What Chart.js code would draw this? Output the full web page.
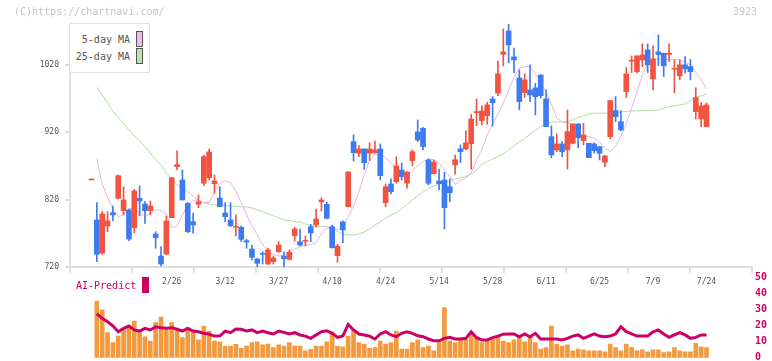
<!DOCTYPE html>
<html>
<head>
<meta charset="utf-8">
<script src="https://cdn.jsdelivr.net/npm/chart.js@4/dist/chart.umd.min.js"></script>
<style>
body { margin: 0; background: #fff; overflow: hidden; }
#wrap { position: relative; width: 772px; height: 361px; overflow: hidden; font-family: "DejaVu Sans Mono", monospace; }
canvas { position: absolute; left: 0; top: 0; }
.txt { position: absolute; white-space: nowrap; font-size: 10px; line-height: 12px; }
.sw { position: absolute; box-sizing: border-box; }
</style>
</head>
<body>
<div id="wrap">
  <canvas id="priceChart" width="772" height="361"></canvas>
  <canvas id="volChart" width="772" height="380"></canvas>

  <div class="txt" style="left:14px;top:6px;color:#c4c4c4">(C)https://chartnavi.com/</div>
  <div class="txt" style="right:15px;top:6px;color:#c8c8c8">3923</div>

  <div class="sw" style="left:69px;top:23px;width:81px;height:50px;border:1px solid #e0e0e0;background:#fff"></div>
  <div class="txt" style="right:642px;top:34px;color:#555">5-day MA</div>
  <div class="sw" style="left:136px;top:31px;width:7px;height:16px;border:1px solid #555;background:#ecbcec"></div>
  <div class="txt" style="right:642px;top:51px;color:#555">25-day MA</div>
  <div class="sw" style="left:136px;top:48px;width:7px;height:16px;border:1px solid #555;background:#bce2ac"></div>

  <div class="txt" style="left:76px;top:280px;color:#cc0066">AI-Predict</div>
  <div class="sw" style="left:142px;top:277px;width:7px;height:16px;background:#cc0066"></div>
</div>
<script>
"use strict";

/*******************
   DAILY PRICES
*******************/

var opens = [849.3, 789.8, 740.4, 780.9, 800.7, 822.1, 803.7, 804.7, 778.4, 822.1,
	813.6, 803.7, 769.0, 736.3, 739.3, 793.3, 869.0, 849.3, 814.7, 787.3,
	813.2, 844.4, 852.7, 843.8, 822.5, 800.2, 789.8, 778.7, 779.0, 759.1,
	746.7, 731.9, 740.4, 724.5, 727.9, 742.7, 736.3, 731.4, 766.5, 757.6,
	758.2, 779.9, 782.4, 816.6, 813.2, 779.9, 736.8, 786.9, 809.6, 906.2,
	889.0, 895.3, 889.0, 889.8, 895.3, 815.5, 843.3, 846.7, 864.1, 844.4,
	878.0, 920.6, 926.1, 879.0, 858.6, 847.8, 849.3, 839.3, 871.6, 895.3,
	895.3, 903.2, 949.3, 937.4, 944.8, 969.6, 978.1, 1035.8, 1070.7, 1032.0,
	1000.8, 979.0, 983.0, 986.0, 1005.3, 969.6, 913.6, 893.9, 902.8, 893.9,
	903.8, 932.5, 907.7, 903.8, 902.8, 898.8, 875.6, 913.6, 952.3, 935.9,
	980.5, 1025.7, 1010.2, 1027.6, 1042.4, 999.3, 1039.5, 1037.5, 1035.5, 1013.8,
	1003.8, 1020.2, 1017.6, 950.8, 939.9, 928.5];

var highs = [849.3, 815.5, 802.2, 802.2, 810.6, 856.7, 838.9, 806.2, 835.5, 840.4,
	817.0, 818.1, 772.5, 750.2, 795.8, 852.7, 892.4, 864.1, 815.5, 799.8,
	827.0, 886.4, 895.3, 856.7, 838.9, 815.5, 815.5, 797.3, 780.9, 761.2,
	752.7, 732.9, 742.7, 747.8, 736.3, 757.6, 742.7, 745.3, 779.0, 776.5,
	766.1, 783.4, 806.2, 823.0, 816.1, 782.4, 753.7, 788.4, 861.2, 916.1,
	900.2, 895.3, 904.7, 907.2, 902.8, 843.3, 850.8, 883.9, 874.5, 861.2,
	893.9, 938.4, 927.0, 880.5, 879.0, 865.6, 860.7, 850.8, 886.4, 901.3,
	922.1, 946.9, 969.6, 959.2, 964.7, 973.1, 1026.1, 1073.6, 1081.1, 1045.0,
	1012.7, 1006.8, 1020.2, 993.0, 1005.3, 983.0, 929.5, 917.6, 906.2, 953.3,
	932.5, 932.5, 933.5, 903.8, 904.7, 898.8, 886.4, 967.1, 973.1, 952.3,
	1016.1, 1033.5, 1033.5, 1051.4, 1051.4, 1048.4, 1064.7, 1037.5, 1051.4, 1027.6,
	1027.6, 1032.5, 1028.6, 986.4, 964.1, 963.7];

var lows = [849.3, 727.9, 738.9, 772.5, 788.4, 821.0, 797.3, 759.1, 771.0, 795.8,
	784.9, 797.3, 747.8, 721.5, 738.3, 793.3, 864.1, 819.6, 771.0, 770.1,
	808.1, 840.8, 849.3, 829.5, 809.6, 787.3, 779.9, 766.1, 757.6, 747.8,
	730.4, 719.0, 724.5, 724.0, 724.5, 741.8, 720.4, 730.4, 758.6, 751.2,
	751.2, 757.6, 779.0, 803.2, 791.3, 747.8, 727.0, 756.1, 809.6, 877.5,
	883.9, 865.2, 878.0, 889.0, 849.3, 809.6, 828.5, 844.4, 849.3, 836.9,
	870.5, 906.2, 893.9, 841.8, 857.7, 834.4, 776.5, 817.0, 857.7, 875.0,
	893.9, 865.2, 930.0, 931.0, 932.0, 929.5, 974.5, 1018.7, 1023.1, 1008.7,
	953.3, 971.9, 965.6, 945.9, 971.1, 928.5, 882.4, 891.3, 883.9, 865.6,
	902.8, 897.3, 901.3, 882.4, 889.0, 879.0, 869.0, 910.6, 935.9, 922.1,
	971.6, 1008.7, 1008.3, 1017.6, 1008.7, 983.0, 1019.1, 1002.8, 1025.1, 979.0,
	997.9, 1007.8, 997.9, 939.9, 928.5, 928.5];

var closes = [849.3, 738.9, 798.8, 788.4, 797.3, 855.7, 819.6, 761.6, 832.9, 818.1,
	803.7, 810.6, 763.5, 724.5, 788.4, 852.7, 872.0, 819.6, 772.5, 782.4,
	817.0, 883.9, 890.9, 847.8, 809.6, 794.7, 781.4, 779.7, 761.2, 757.1,
	734.4, 725.5, 738.9, 745.3, 733.4, 752.7, 732.3, 741.8, 776.5, 752.7,
	759.1, 770.5, 791.3, 819.6, 792.4, 748.7, 751.2, 775.0, 861.2, 889.8,
	895.3, 875.0, 895.3, 893.9, 855.7, 839.3, 831.9, 870.1, 854.2, 861.2,
	891.3, 908.7, 898.8, 844.4, 876.0, 843.8, 808.1, 830.4, 879.4, 891.3,
	904.3, 939.9, 950.3, 951.8, 960.7, 964.1, 1006.8, 1039.5, 1049.9, 1027.6,
	965.6, 997.9, 975.6, 973.0, 974.5, 928.5, 886.4, 902.8, 891.3, 921.0,
	932.5, 912.1, 916.1, 882.4, 892.8, 889.0, 884.9, 967.1, 943.3, 923.6,
	1006.8, 1026.5, 1033.5, 1035.0, 1020.2, 1029.1, 1035.5, 1018.7, 1037.5, 1014.7,
	1020.2, 1014.2, 1010.2, 971.6, 959.2, 960.7];

var ma5 = [null, 880.0, 843.3, 824.0, 806.2, 795.0, 797.3, 806.9, 806.2, 801.0,
	794.3, 800.2, 804.7, 804.7, 798.0, 778.7, 780.9, 797.3, 812.1, 818.8,
	819.6, 815.8, 815.8, 831.4, 844.8, 847.8, 845.6, 832.9, 815.8, 797.3,
	781.7, 767.5, 753.4, 743.0, 738.6, 736.3, 737.8, 743.8, 746.7, 749.7,
	751.9, 753.4, 756.4, 769.8, 778.0, 777.2, 775.7, 778.0, 795.0, 810.6,
	831.4, 856.7, 878.2, 887.2, 887.2, 882.0, 875.3, 865.6, 854.5, 856.0,
	862.6, 870.8, 876.8, 880.0, 879.7, 874.5, 863.4, 854.5, 842.6, 848.5,
	852.2, 859.7, 879.0, 894.6, 916.1, 932.5, 947.3, 963.7, 983.0, 1001.6,
	1015.7, 1017.9, 1017.6, 1006.8, 994.9, 980.0, 962.2, 941.4, 935.5, 934.7,
	931.0, 922.1, 914.7, 913.6, 911.7, 905.7, 896.4, 891.6, 899.8, 914.7,
	932.5, 956.3, 980.0, 1005.3, 1021.6, 1029.1, 1029.1, 1028.6, 1028.6, 1028.3,
	1027.6, 1024.6, 1020.2, 1009.0, 997.9, 984.5];

var ma25 = [null, 986.7, 975.6, 963.7, 951.8, 942.2, 932.5, 923.6, 914.7, 907.2,
	898.3, 889.4, 879.0, 871.6, 859.7, 850.8, 841.9, 835.9, 831.5, 825.5,
	818.1, 815.1, 813.6, 812.1, 812.1, 811.4, 810.6, 809.9, 809.2, 809.2,
	807.7, 804.7, 802.2, 798.8, 796.5, 792.8, 789.8, 789.1, 787.3, 786.9,
	783.9, 781.7, 779.9, 779.9, 779.9, 776.5, 772.8, 769.0, 767.6, 767.6,
	769.0, 772.0, 776.5, 782.4, 786.9, 792.8, 797.3, 801.0, 806.2, 812.9,
	819.6, 825.5, 831.5, 836.6, 840.4, 843.3, 845.6, 847.8, 850.8, 852.3,
	854.5, 858.2, 863.4, 872.3, 876.8, 880.5, 884.2, 887.9, 893.9, 899.8,
	905.7, 910.2, 917.6, 922.8, 928.8, 933.2, 935.0, 935.5, 935.5, 935.9,
	938.4, 942.2, 944.4, 947.3, 948.4, 948.4, 948.4, 948.4, 948.8, 950.3,
	951.1, 951.8, 951.8, 952.3, 952.3, 952.6, 953.3, 956.3, 957.7, 959.2,
	960.7, 962.2, 966.7, 972.6, 974.1, 977.1];

/*******************
  VOLUME & PREDICT
*******************/

var volume = [null, 35.1, 29.6, 15.5, 9.3, 13.4, 17.2, 18.2, 22.7, 15.5,
	13.0, 10.3, 21.7, 25.2, 17.2, 21.7, 17.2, 12.4, 18.6, 16.5,
	11.0, 19.6, 16.5, 10.3, 9.9, 7.2, 7.2, 8.3, 5.8, 7.2,
	9.3, 9.9, 7.9, 8.5, 6.2, 7.9, 7.2, 9.3, 7.2, 7.2,
	4.3, 5.2, 7.2, 7.2, 9.9, 16.1, 7.2, 6.8, 13.4, 17.2,
	9.3, 8.5, 5.8, 6.2, 10.3, 8.5, 9.3, 16.5, 5.4, 5.4,
	9.3, 11.0, 6.2, 7.2, 4.3, 9.3, 31.0, 10.3, 9.3, 12.0,
	11.0, 15.5, 13.0, 9.3, 10.3, 11.6, 13.0, 10.3, 9.3, 11.0,
	12.6, 9.9, 12.6, 9.3, 5.4, 6.2, 19.6, 8.5, 7.2, 7.9,
	4.3, 5.4, 4.8, 4.3, 4.3, 4.3, 3.7, 8.5, 6.2, 4.3,
	8.5, 6.4, 4.3, 4.8, 3.7, 4.8, 4.8, 3.1, 3.7, 6.2,
	4.3, 3.7, 3.7, 8.9, 6.8, 6.2];

var predict = [null, 27.1, 24.4, 22.3, 19.8, 16.1, 18.2, 19.6, 17.2, 16.5,
	18.2, 17.2, 19.2, 18.6, 18.2, 18.6, 17.6, 16.5, 18.2, 16.5,
	16.1, 15.1, 14.5, 13.4, 13.4, 16.5, 15.5, 17.8, 17.6, 16.5,
	17.2, 15.5, 16.5, 15.5, 14.7, 16.5, 15.7, 14.7, 15.5, 14.1,
	13.4, 12.0, 14.1, 16.1, 16.7, 15.1, 12.6, 13.4, 20.7, 17.2,
	14.7, 14.1, 13.4, 11.6, 14.7, 16.1, 14.1, 13.0, 15.1, 16.1,
	15.1, 13.6, 13.0, 11.6, 10.5, 10.5, 12.0, 12.6, 11.6, 11.6,
	12.0, 16.1, 12.4, 11.0, 11.0, 12.4, 13.4, 14.6, 14.7, 14.7,
	13.0, 14.7, 13.0, 15.1, 11.6, 11.6, 11.6, 11.6, 11.0, 12.0,
	13.4, 14.1, 12.0, 13.4, 14.7, 13.4, 13.0, 13.4, 14.7, 19.2,
	16.1, 14.7, 13.4, 13.4, 13.4, 16.1, 17.2, 14.7, 12.6, 14.1,
	15.5, 14.1, 12.0, 12.6, 14.1, 14.0];

/*******************
     AXIS TICKS
*******************/

var dateIndex = [15, 25, 35, 45, 55, 65, 75, 85, 95, 105, 115];
var dateLabels = ['2/26', '3/12', '3/27', '4/10', '4/24', '5/14', '5/28', '6/11', '6/25', '7/9', '7/24'];
var priceTicks = [720, 820, 920, 1020];
var predictTicks = [0, 10, 20, 30, 40, 50];

var UP = '#f25442';
var DOWN = '#3d7cf0';
var GRID = '#dedede';
var MONO = 'DejaVu Sans Mono';
var X_MIN = -4.02;
var X_MAX = 123.51;

function candleColor(ctx) {
	var i = ctx.dataIndex;
	return closes[i] >= opens[i] ? UP : DOWN;
}

function series(arr) {
	return arr.map(function (v, i) { return { x: i, y: v }; });
}

function fixedTicks(values) {
	return function (scale) {
		scale.ticks = values.map(function (v) { return { value: v }; });
	};
}

function plainLabel(v) {
	return String(v);
}

var wickData = opens.map(function (o, i) { return { x: i, y: [lows[i], highs[i]] }; });
var bodyData = opens.map(function (o, i) { return { x: i, y: [o, closes[i]] }; });

/*******************
    PRICE PANEL
*******************/

var priceChart = new Chart(document.getElementById('priceChart'), {
	type: 'bar',
	data: {
		datasets: [{
			type: 'line',
			data: series(ma25),
			borderColor: '#b2dca0',
			borderWidth: 1,
			pointRadius: 0,
			order: 3
		}, {
			type: 'line',
			data: series(ma5),
			borderColor: '#e8b2e8',
			borderWidth: 1,
			pointRadius: 0,
			order: 2
		}, {
			data: wickData,
			backgroundColor: candleColor,
			barThickness: 1,
			grouped: false,
			order: 1
		}, {
			data: bodyData,
			backgroundColor: candleColor,
			barThickness: 5,
			minBarLength: 1,
			grouped: false,
			order: 0
		}]
	},
	options: {
		responsive: false,
		animation: false,
		devicePixelRatio: 1,
		layout: { padding: { left: 0, right: 20, top: 24, bottom: 74 } },
		plugins: { legend: { display: false }, tooltip: { enabled: false } },
		scales: {
			xg: {
				type: 'linear',
				position: 'bottom',
				weight: 0,
				offset: false,
				min: X_MIN,
				max: X_MAX,
				afterFit: function (s) { s.height = 0; },
				afterBuildTicks: function (s) {
					var t = [];
					for (var k = 0; k <= 11; k++) t.push({ value: s.min + (s.max - s.min) * k / 11 });
					s.ticks = t;
				},
				ticks: { display: false },
				grid: { offset: false, drawOnChartArea: false, tickLength: 6, color: GRID, lineWidth: 2 },
				border: { color: GRID, width: 2 }
			},
			x: {
				type: 'linear',
				position: 'bottom',
				weight: 1,
				offset: false,
				min: X_MIN,
				max: X_MAX,
				afterFit: function (s) { s.height = 20; },
				afterBuildTicks: fixedTicks(dateIndex),
				ticks: {
					autoSkip: false,
					maxRotation: 0,
					padding: 10,
					color: '#555',
					font: { family: MONO, size: 8 },
					callback: function (v) { return dateLabels[dateIndex.indexOf(v)]; }
				},
				grid: { offset: false, display: false, drawTicks: false },
				border: { display: false }
			},
			y: {
				min: 720,
				max: 1080.9,
				afterFit: function (s) { s.width = 70; },
				afterBuildTicks: fixedTicks(priceTicks),
				ticks: { padding: 6, color: '#555', font: { family: MONO, size: 8 }, callback: plainLabel },
				grid: { drawOnChartArea: false, tickLength: 5, color: GRID, lineWidth: 2 },
				border: { color: GRID, width: 2 }
			}
		}
	}
});

/*******************
  VOLUME & AI PANEL
*******************/

var volChart = new Chart(document.getElementById('volChart'), {
	type: 'bar',
	data: {
		datasets: [{
			type: 'line',
			data: series(predict),
			borderColor: '#cc0066',
			borderWidth: 3,
			pointRadius: 0,
			order: 0
		}, {
			data: series(volume),
			backgroundColor: '#f29a3e',
			barThickness: 4,
			order: 1
		}]
	},
	options: {
		responsive: false,
		animation: false,
		devicePixelRatio: 1,
		layout: { padding: { left: 70, right: 0, top: 277, bottom: 22.3 } },
		plugins: { legend: { display: false }, tooltip: { enabled: false } },
		scales: {
			x: { type: 'linear', offset: false, min: X_MIN, max: X_MAX, display: false },
			y: {
				position: 'right',
				min: 0,
				max: 50,
				afterFit: function (s) { s.width = 20; },
				afterBuildTicks: fixedTicks(predictTicks),
				ticks: { padding: 3, color: '#cc0066', font: { family: MONO, size: 10, weight: 'bold' }, callback: plainLabel },
				grid: { display: false, drawTicks: false },
				border: { display: false }
			}
		}
	}
});
</script>
</body>
</html>
